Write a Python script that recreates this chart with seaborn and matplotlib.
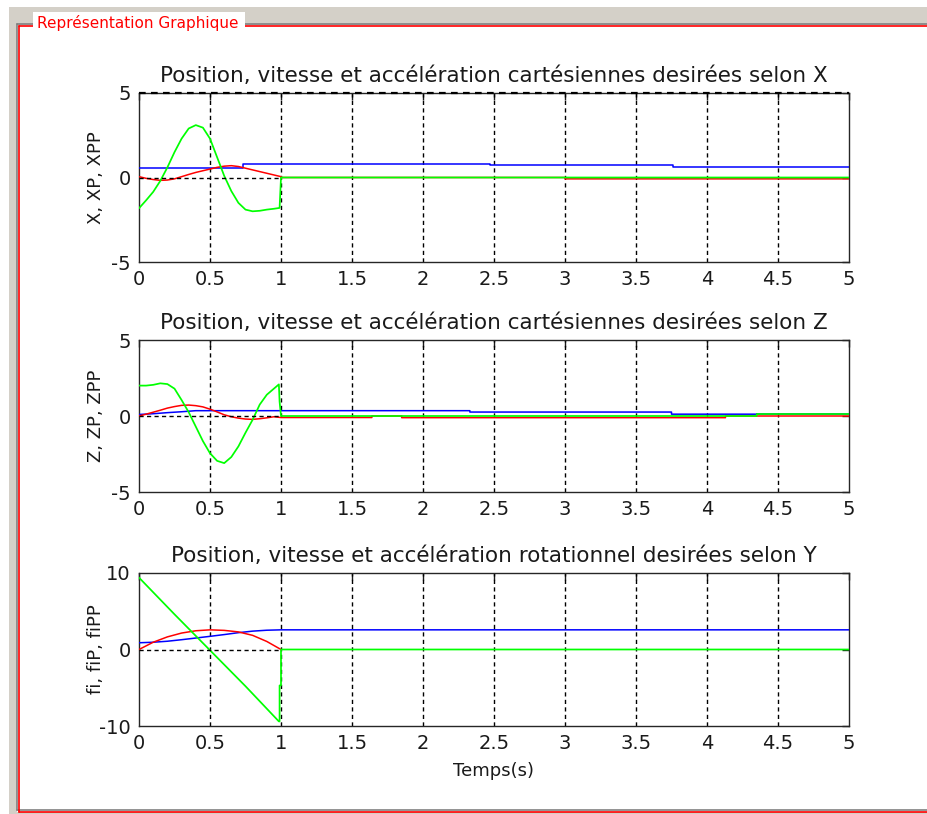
import matplotlib
matplotlib.use("Agg")
import matplotlib.pyplot as plt
import seaborn as sns
from matplotlib.patches import Rectangle
from matplotlib.lines import Line2D

sns.set_style("white")
plt.rcParams['font.family'] = ['DejaVu Sans']
plt.rcParams['axes.unicode_minus'] = False

# ---------------------------------------------------------------------------
# Data
# ---------------------------------------------------------------------------
x_ticks = [0, 0.5, 1, 1.5, 2, 2.5, 3, 3.5, 4, 4.5, 5]
x_tick_labels = ['0', '0.5', '1', '1.5', '2', '2.5', '3', '3.5', '4', '4.5', '5']

t_motion = [0, 0.05, 0.1, 0.15, 0.2, 0.25, 0.3, 0.35, 0.4, 0.45, 0.5,
            0.55, 0.6, 0.65, 0.7, 0.75, 0.8, 0.85, 0.9, 0.95, 1.0]

# --- selon X ---
t_x_pos = [0, 0.73, 0.73, 2.47, 2.47, 3.76, 3.76, 5]
x_pos = [0.58, 0.58, 0.82, 0.82, 0.72, 0.72, 0.60, 0.60]

t_x_vel = t_motion + [1.0, 3.0, 3.0, 5.0]
x_vel = [0.05, -0.05, -0.12, -0.17, -0.15, -0.08, 0.05, 0.18, 0.30, 0.40, 0.50,
         0.60, 0.67, 0.70, 0.65, 0.55, 0.45, 0.35, 0.25, 0.15, 0.05,
         0.0, 0.0, -0.08, -0.08]

t_x_acc = t_motion[:-1] + [0.99, 1.0, 5.0]
x_acc = [-1.82, -1.35, -0.85, -0.20, 0.60, 1.50, 2.30, 2.90, 3.10, 2.95, 2.30,
         1.20, 0.10, -0.80, -1.50, -1.90, -2.00, -1.97, -1.90, -1.85,
         -1.80, 0.0, 0.0]

# --- selon Z ---
t_z_pos = [0, 0.1, 0.2, 0.3, 0.4, 2.33, 2.33, 3.75, 3.75, 4.35, 4.35, 5]
z_pos = [0.10, 0.15, 0.22, 0.28, 0.35, 0.35, 0.26, 0.26, 0.12, 0.12, 0.13, 0.13]

t_z_vel = t_motion + [1.64, 1.64, 1.85, 1.85, 4.13, 4.13, 5.0]
z_vel = [0.0, 0.12, 0.25, 0.38, 0.52, 0.62, 0.70, 0.72, 0.68, 0.60, 0.45,
         0.27, 0.08, -0.05, -0.14, -0.20, -0.22, -0.18, -0.12, -0.05, -0.10,
         -0.10, 0.0, 0.0, -0.11, -0.11, 0.0, 0.0]

t_z_acc = t_motion[:-1] + [0.985, 0.99, 1.0, 4.35, 4.35, 5.0]
z_acc = [2.00, 2.00, 2.05, 2.15, 2.10, 1.80, 1.05, 0.25, -0.70, -1.65, -2.45,
         -2.95, -3.10, -2.70, -2.00, -1.10, -0.25, 0.75, 1.40, 1.80,
         2.08, 0.95, 0.0, 0.0, 0.13, 0.13]

# --- rotation selon Y ---
t_rot = [0, 0.1, 0.2, 0.3, 0.4, 0.5, 0.6, 0.7, 0.8, 0.9, 1.0]
t_fi_pos = t_rot + [5.0]
fi_pos = [0.88, 0.95, 1.08, 1.28, 1.50, 1.72, 1.95, 2.20, 2.40, 2.52, 2.57, 2.57]

t_fi_vel = t_rot
fi_vel = [0.0, 0.95, 1.65, 2.15, 2.45, 2.57, 2.50, 2.30, 1.85, 1.05, 0.0]

t_fi_acc = [0, 0.25, 0.5, 0.75, 0.985, 0.99, 0.99, 1.0, 1.0, 5.0]
fi_acc = [9.4, 4.6, -0.1, -4.8, -9.4, -9.4, -4.7, -4.7, 0.0, 0.0]

panels = [
    dict(title='Position, vitesse et accélération cartésiennes desirées selon X',
         ylabel='X, XP, XPP', ylim=(-5, 5), yticks=[-5, 0, 5],
         pos=(t_x_pos, x_pos), vel=(t_x_vel, x_vel), acc=(t_x_acc, x_acc)),
    dict(title='Position, vitesse et accélération cartésiennes desirées selon Z',
         ylabel='Z, ZP, ZPP', ylim=(-5, 5), yticks=[-5, 0, 5],
         pos=(t_z_pos, z_pos), vel=(t_z_vel, z_vel), acc=(t_z_acc, z_acc)),
    dict(title='Position, vitesse et accélération rotationnel desirées selon Y',
         ylabel='fi, fiP, fiPP', ylim=(-10, 10), yticks=[-10, 0, 10],
         pos=(t_fi_pos, fi_pos), vel=(t_fi_vel, fi_vel), acc=(t_fi_acc, fi_acc)),
]

# ---------------------------------------------------------------------------
# Figure with a GUI-like frame
# ---------------------------------------------------------------------------
W, H = 928, 814
fig = plt.figure(figsize=(W / 100, H / 100), dpi=100, facecolor='white')


def fx(px):
    return px / W


def fy(py):
    return 1 - py / H


fig.patches.append(Rectangle((fx(9), 0), fx(W - 9), fy(7), transform=fig.transFigure,
                             facecolor='#d4d0c8', edgecolor='none', zorder=-10))
fig.patches.append(Rectangle((fx(17), fy(812)), fx(W), fy(25) - fy(812),
                             transform=fig.transFigure, facecolor='white',
                             edgecolor='none', zorder=-9))
for xs, ys, c in [([16.5, 16.5], [24, 810], '#808080'),
                  ([16.5, W], [24, 24], '#808080'),
                  ([16.5, W], [810, 810], '#808080'),
                  ([18.5, 18.5], [25.5, 811.5], 'red'),
                  ([18.5, W], [25.5, 25.5], 'red'),
                  ([18.5, W], [811.5, 811.5], 'red')]:
    fig.lines.append(Line2D([fx(v) for v in xs], [fy(v) for v in ys],
                            transform=fig.transFigure, color=c, lw=1.2, zorder=-8))
fig.patches.append(Rectangle((fx(33), fy(31)), fx(212), fy(12) - fy(31),
                             transform=fig.transFigure, facecolor='white',
                             edgecolor='none', zorder=-7))
fig.text(fx(37), fy(28), 'Représentation Graphique', color='red', fontsize=11,
         va='baseline', ha='left', zorder=-6)

# axes boxes in pixels: (left, top, right, bottom)
boxes = [(139, 93, 849, 262), (139, 340, 849, 492), (139, 573, 849, 726)]

dash = (0, (3, 2.4))
for i, (p, (l, t, r, b)) in enumerate(zip(panels, boxes)):
    ax = fig.add_axes([fx(l), fy(b), fx(r - l), fy(t) - fy(b)])
    ax.set_xlim(0, 5)
    ax.set_ylim(*p['ylim'])

    for xv in x_ticks[1:-1]:
        ax.axvline(xv, color='black', lw=1.0, ls=dash, zorder=1)

    sns.lineplot(x=p['pos'][0], y=p['pos'][1], ax=ax, color='#0000ff', lw=1.1,
                 estimator=None, sort=False, zorder=3)
    sns.lineplot(x=p['vel'][0], y=p['vel'][1], ax=ax, color='#ff0000', lw=1.1,
                 estimator=None, sort=False, zorder=3)
    sns.lineplot(x=p['acc'][0], y=p['acc'][1], ax=ax, color='#00ff00', lw=1.25,
                 estimator=None, sort=False, zorder=3)
    sns.lineplot(x=[0, 1], y=[0, 0], ax=ax, color='black', lw=1.0, ls=dash,
                 estimator=None, zorder=4)
    if i == 0:
        sns.lineplot(x=[0, 5], y=[5, 5], ax=ax, color='black', lw=1.6, ls=dash,
                     estimator=None, zorder=5)
        ax.lines[-1].set_clip_on(False)

    ax.set_xticks(x_ticks)
    ax.set_xticklabels(x_tick_labels)
    ax.set_yticks(p['yticks'])
    ax.tick_params(direction='in', length=5, width=1, top=True, right=True,
                   labelsize=14, pad=6, colors='#1a1a1a')
    for s in ax.spines.values():
        s.set_color('#262626')
        s.set_linewidth(1.0)
    ax.set_title(p['title'], fontsize=15.5, pad=8, color='#1a1a1a')
    ax.set_ylabel(p['ylabel'], fontsize=13, color='#1a1a1a')
    ax.yaxis.set_label_coords(-0.048, 0.5)
    ax.set_xlabel('')

ax.set_xlabel('Temps(s)', fontsize=13, color='#1a1a1a', labelpad=6)

fig.savefig('out.png', dpi=100, facecolor='white')
